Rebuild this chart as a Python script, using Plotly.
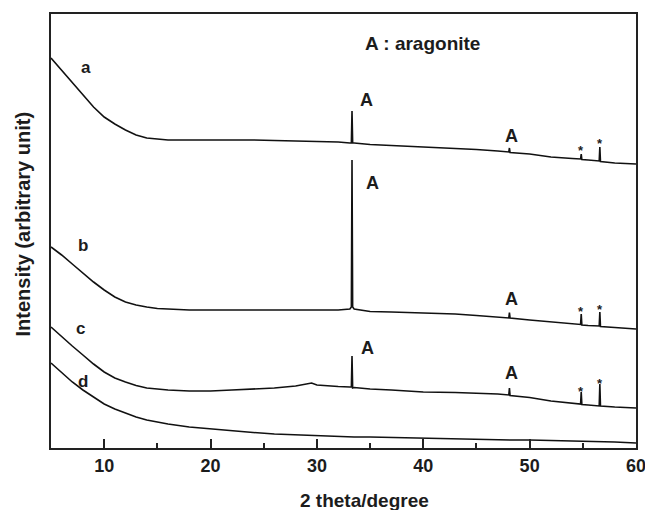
import plotly.graph_objects as go

# 2-theta sampling positions (degrees)
two_theta = [5, 6, 7, 8, 9, 10, 11, 12, 13, 14, 15, 16,
             18, 20, 22, 24, 26, 28,
             29.5, 30, 31, 32,
             33.1, 33.24, 33.3, 33.36, 33.5,
             35, 37, 40, 43, 45, 47,
             48.04, 48.1, 48.16,
             50, 52, 54,
             54.79, 54.85, 54.91,
             55.5, 56.54, 56.6, 56.66,
             58, 60]

# intensities (arbitrary units, offset stacked)
curve_a = [391, 379, 367, 354, 342, 332, 325, 319, 314, 311, 310, 309,
           309, 309, 309.5, 309, 308.5, 308,
           308, 307.5, 307, 307,
           306, 306, 338, 306, 306,
           304.5, 303.5, 302, 301, 299.5, 298,
           297, 301, 296.5,
           295, 292, 290.5,
           290, 295, 289.5,
           289, 288, 302, 287.5,
           286, 285]
curve_b = [202, 194, 185, 176, 167, 159, 152, 147, 144, 142, 140.5, 140,
           139, 139, 139, 139, 139.5, 139,
           139, 139, 139, 139,
           140, 142, 289, 142, 140,
           137.5, 137, 136, 135, 133.5, 132,
           131, 136.5, 131,
           129, 127, 125,
           124.5, 135, 124,
           123.5, 123, 137, 122.5,
           121.5, 120]
curve_c = [122, 112, 103, 94, 85, 77, 71, 67, 63.5, 61, 60, 59,
           58, 58, 59, 60, 61, 63,
           66, 64, 63, 62.5,
           62, 62, 93, 61, 61.5,
           60, 59, 57, 56.5, 56, 55,
           54, 61, 53.5,
           51.5, 48, 45.5,
           45, 57, 44.5,
           44, 43, 65, 43,
           42, 41]
curve_d = [86, 76, 67, 59, 52, 45, 40, 36, 32, 29, 27, 25,
           22, 20, 18, 16.5, 15, 14,
           13.5, 13, 13, 12.5,
           12, 12, 12, 12, 12,
           12, 11.5, 11, 10.5, 10, 9.5,
           9, 9, 9,
           9, 8.5, 8,
           8, 8, 8,
           8, 7.5, 7.5, 7.5,
           7, 6]

curve_labels = ["a", "b", "c", "d"]
label_x = [8.26, 8.03, 7.8, 8.0]
label_y = [382, 204, 120.5, 68]

peak_labels = ["A", "A", "A", "A", "A", "A"]
peak_x = [34.67, 48.3, 35.2, 48.3, 34.8, 48.3]
peak_y = [349, 313, 266.5, 150.5, 101, 76.5]

star_x = [54.85, 56.65, 54.85, 56.65, 54.85, 56.65]
star_y = [299, 305.5, 137.5, 139.5, 57.5, 66]

legend_text = "A : aragonite"
x_title = "2 theta/degree"
y_title = "Intensity (arbitrary unit)"

FONT = "Liberation Sans"
INK = "#1c1c1c"

fig = go.Figure()
for ys in [curve_a, curve_b, curve_c, curve_d]:
    fig.add_trace(go.Scatter(x=two_theta, y=ys, mode="lines",
                             line=dict(color="#111111", width=1.6), showlegend=False))

ann = []
for t, x, y in zip(curve_labels, label_x, label_y):
    ann.append(dict(x=x, y=y, text=t, showarrow=False, xref="x", yref="y",
                    font=dict(family=FONT, size=17, color=INK, weight="bold")))
for t, x, y in zip(peak_labels, peak_x, peak_y):
    ann.append(dict(x=x, y=y, text=t, showarrow=False, xref="x", yref="y",
                    font=dict(family=FONT, size=18, color=INK, weight="bold")))
for x, y in zip(star_x, star_y):
    ann.append(dict(x=x, y=y, text="*", showarrow=False, xref="x", yref="y",
                    font=dict(family=FONT, size=13, color=INK, weight="bold")))
ann.append(dict(x=39.9, y=405.5, text=legend_text, showarrow=False, xref="x", yref="y",
                font=dict(family=FONT, size=19, color=INK, weight="bold")))
ann.append(dict(x=0.536, y=-0.12, xref="paper", yref="paper", xanchor="center", yanchor="middle",
                text=x_title, showarrow=False,
                font=dict(family=FONT, size=19, color=INK, weight="bold")))
ann.append(dict(x=-0.0487, y=0.514, xref="paper", yref="paper", xanchor="center", yanchor="middle",
                text=y_title, textangle=-90, showarrow=False,
                font=dict(family=FONT, size=20, color=INK, weight="bold")))

fig.update_layout(
    width=645, height=510,
    margin=dict(l=51, r=9, t=14, b=62),
    paper_bgcolor="white", plot_bgcolor="white",
    annotations=ann,
    xaxis=dict(range=[5, 60], tick0=0, dtick=10, ticks="inside", ticklen=9, tickwidth=2,
               tickcolor="#222", showline=True, linecolor="#222", linewidth=2, mirror=True,
               showgrid=False, zeroline=False, automargin=False, ticklabeloverflow="allow",
               tickfont=dict(family=FONT, size=18, color=INK, weight="bold"),
               minor=dict(dtick=5, tick0=0, ticks="inside", ticklen=5, tickwidth=2, tickcolor="#222",
                          showgrid=False)),
    yaxis=dict(range=[1, 435], showticklabels=False, ticks="", showline=True, linecolor="#222",
               linewidth=2, mirror=True, showgrid=False, zeroline=False, automargin=False),
)

fig.write_html("out.html")
